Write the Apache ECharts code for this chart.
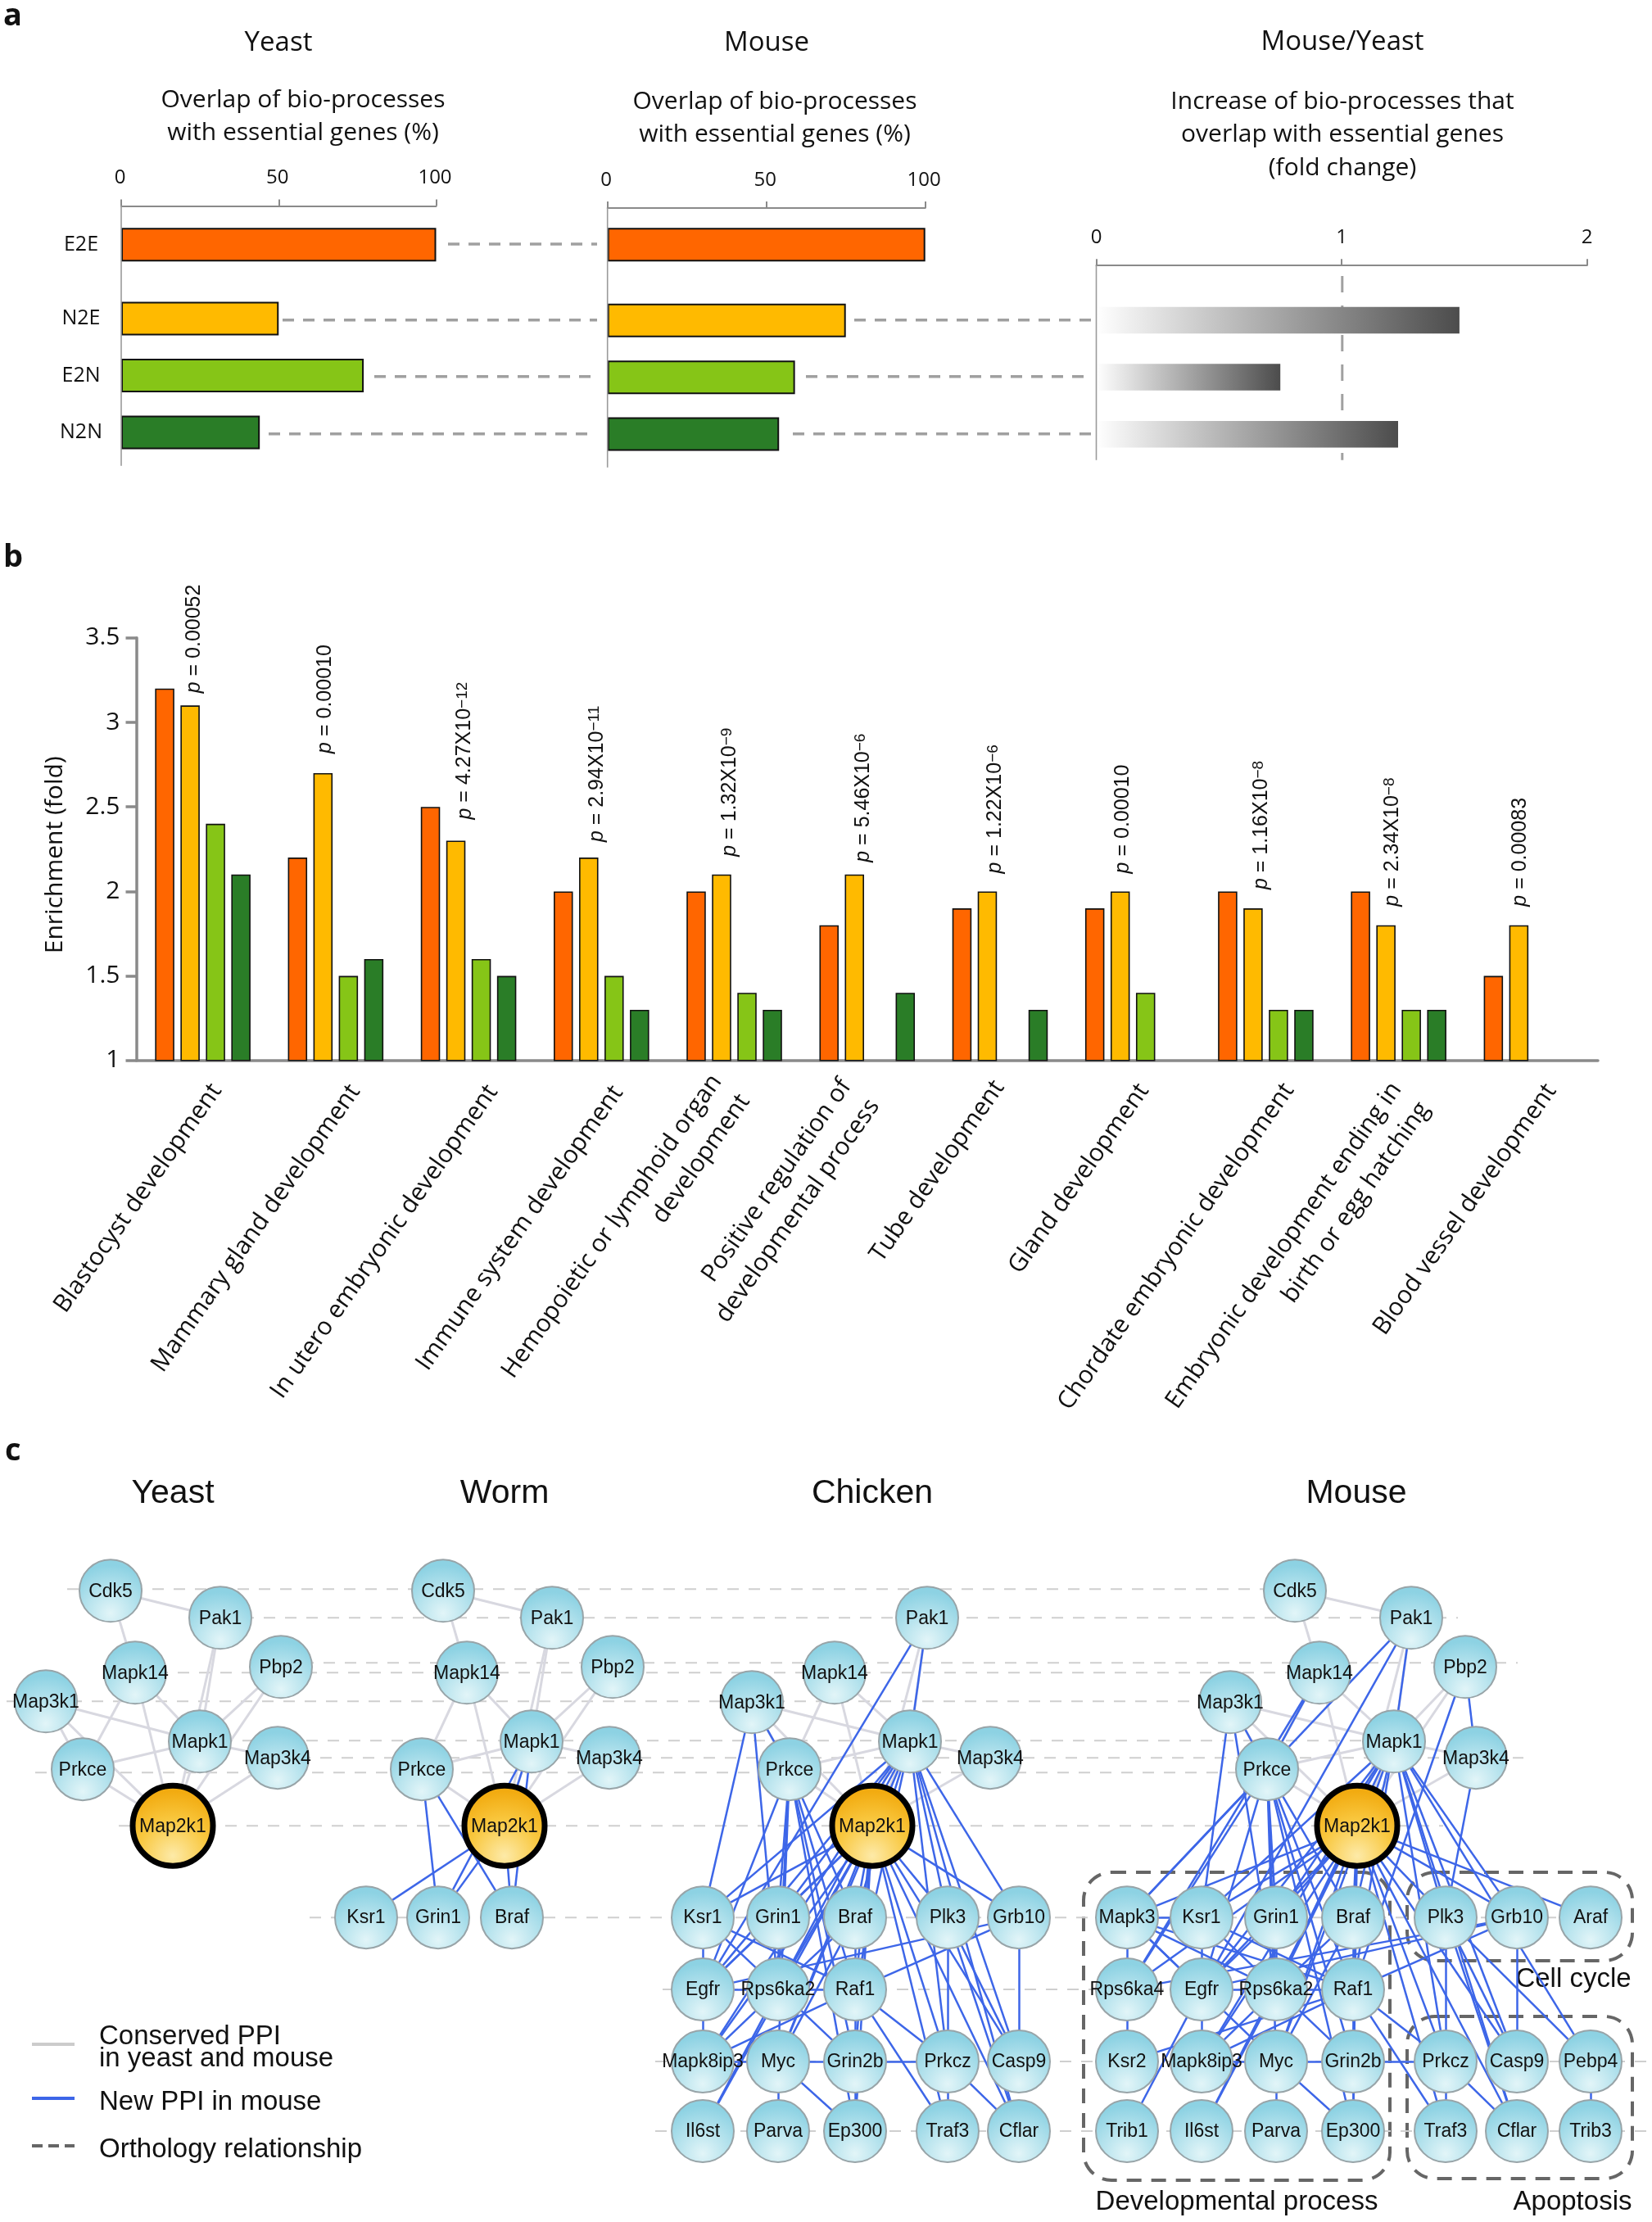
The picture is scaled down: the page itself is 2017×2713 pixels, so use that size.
<!DOCTYPE html>
<html><head><meta charset="utf-8">
<style>html,body{margin:0;padding:0;background:#fff}#c{width:2017px;height:2713px}</style>
<script src="https://cdn.jsdelivr.net/npm/echarts@6/dist/echarts.min.js"></script></head>
<body><div id="c"></div>
<script>
// ---------- panel a data ----------
const rowTop = ['E2E'];
const rowsRest = ['N2E','E2N','N2N'];
const yeastOverlap = [100,50,77,44];
const mouseOverlap = [100,75,59,54];
const foldChange = [1.48,0.75,1.23];
// ---------- panel b data ----------
const categories = ['Blastocyst development','Mammary gland development','In utero embryonic development','Immune system development','Hemopoietic or lymphoid organ\ndevelopment','Positive regulation of\ndevelopmental process','Tube development','Gland development','Chordate embryonic development','Embryonic development ending in\nbirth or egg hatching','Blood vessel development'];
const seriesE2E = [3.2,2.2,2.5,2.0,2.0,1.8,1.9,1.9,2.0,2.0,1.5];
const seriesN2E = [3.1,2.7,2.3,2.2,2.1,2.1,2.0,2.0,1.9,1.8,1.8];
const seriesE2N = [2.4,1.5,1.6,1.5,1.4,null,null,1.4,1.3,1.3,null];
const seriesN2N = [2.1,1.6,1.5,1.3,1.3,1.4,1.3,null,1.3,1.3,null];
const pValues = ['0.00052','0.00010',['4.27X10','−12'],['2.94X10','−11'],['1.32X10','−9'],['5.46X10','−6'],['1.22X10','−6'],'0.00010',['1.16X10','−8'],['2.34X10','−8'],'0.00083'];
// ---------- panel c data: [name, x, y] in the network layout ----------
const yeastNodes = [['Cdk5',135,1942],['Pak1',269,1975],['Mapk14',165,2042],['Pbp2',343,2035],['Map3k1',56,2077],['Mapk1',244,2126],['Map3k4',339,2146],['Prkce',101,2160],['Map2k1',211,2229]];
const wormNodes = [['Cdk5',541,1942],['Pak1',674,1975],['Mapk14',570,2042],['Pbp2',748,2035],['Mapk1',649,2126],['Map3k4',744,2146],['Prkce',515,2160],['Map2k1',616,2229],['Ksr1',447,2341],['Grin1',535,2341],['Braf',625,2341]];
const chickenNodes = [['Pak1',1132,1975],['Mapk14',1019,2042],['Map3k1',918,2078],['Mapk1',1111,2126],['Map3k4',1209,2146],['Prkce',964,2160],['Map2k1',1065,2229],
 ['Ksr1',858,2341],['Grin1',950,2341],['Braf',1044,2341],['Plk3',1157,2341],['Grb10',1244,2341],
 ['Egfr',858,2429],['Rps6ka2',950,2429],['Raf1',1044,2429],
 ['Mapk8ip3',858,2517],['Myc',950,2517],['Grin2b',1044,2517],['Prkcz',1157,2517],['Casp9',1244,2517],
 ['Il6st',858,2602],['Parva',950,2602],['Ep300',1044,2602],['Traf3',1157,2602],['Cflar',1244,2602]];
const mouseNodes = [['Cdk5',1581,1942],['Pak1',1723,1975],['Mapk14',1611,2042],['Pbp2',1789,2035],['Map3k1',1502,2078],['Mapk1',1702,2126],['Map3k4',1802,2146],['Prkce',1547,2160],['Map2k1',1657,2229],
 ['Mapk3',1376,2341],['Ksr1',1467,2341],['Grin1',1558,2341],['Braf',1652,2341],['Plk3',1765,2341],['Grb10',1852,2341],['Araf',1942,2341],
 ['Rps6ka4',1376,2429],['Egfr',1467,2429],['Rps6ka2',1558,2429],['Raf1',1652,2429],
 ['Ksr2',1376,2517],['Mapk8ip3',1467,2517],['Myc',1558,2517],['Grin2b',1652,2517],['Prkcz',1765,2517],['Casp9',1852,2517],['Pebp4',1942,2517],
 ['Trib1',1376,2602],['Il6st',1467,2602],['Parva',1558,2602],['Ep300',1652,2602],['Traf3',1765,2602],['Cflar',1852,2602],['Trib3',1942,2602]];
const conservedEdges = [['Cdk5','Pak1'],['Cdk5','Mapk14'],['Mapk14','Mapk1'],['Mapk14','Prkce'],['Mapk14','Map2k1'],['Pak1','Mapk1'],['Pak1','Map2k1'],['Pbp2','Mapk1'],['Pbp2','Map2k1'],['Map3k1','Mapk1'],['Map3k1','Prkce'],['Map3k1','Map2k1'],['Mapk1','Prkce'],['Mapk1','Map3k4'],['Mapk1','Map2k1'],['Prkce','Map2k1'],['Map3k4','Map2k1']];
const wormNewEdges = [['Map2k1','Ksr1'],['Prkce','Grin1'],['Prkce','Braf'],['Map2k1','Grin1'],['Mapk1','Grin1'],['Map2k1','Braf'],['Mapk1','Braf'],['Mapk1','Map2k1']];
const chickenNewEdges = [['Pak1','Mapk1'],['Pak1','Egfr'],['Map3k1','Ksr1'],['Map3k1','Prkce'],['Map3k1','Rps6ka2'],
 ['Prkce','Grin1'],['Prkce','Egfr'],['Prkce','Rps6ka2'],['Prkce','Raf1'],['Prkce','Grin2b'],['Prkce','Braf'],['Prkce','Ep300'],['Prkce','Myc'],
 ['Mapk1','Grb10'],['Mapk1','Plk3'],['Mapk1','Prkcz'],['Mapk1','Raf1'],['Mapk1','Braf'],['Mapk1','Grin1'],['Mapk1','Egfr'],['Mapk1','Rps6ka2'],['Mapk1','Myc'],['Mapk1','Casp9'],['Mapk1','Cflar'],['Mapk1','Ksr1'],['Mapk1','Mapk8ip3'],
 ['Map2k1','Ksr1'],['Map2k1','Grin1'],['Map2k1','Braf'],['Map2k1','Plk3'],['Map2k1','Grb10'],['Map2k1','Egfr'],['Map2k1','Rps6ka2'],['Map2k1','Raf1'],['Map2k1','Mapk8ip3'],['Map2k1','Myc'],['Map2k1','Grin2b'],['Map2k1','Prkcz'],['Map2k1','Casp9'],['Map2k1','Traf3'],['Map2k1','Cflar'],['Map2k1','Il6st'],['Map2k1','Ep300'],
 ['Ksr1','Raf1'],['Ksr1','Egfr'],['Ksr1','Grin2b'],['Grin1','Egfr'],['Grin1','Rps6ka2'],['Braf','Raf1'],['Braf','Rps6ka2'],['Braf','Myc'],['Egfr','Raf1'],['Egfr','Grb10'],['Grb10','Raf1'],['Grb10','Casp9'],['Plk3','Casp9'],['Plk3','Cflar'],['Plk3','Prkcz'],
 ['Raf1','Prkcz'],['Raf1','Traf3'],['Raf1','Grin2b'],['Raf1','Mapk8ip3'],['Rps6ka2','Mapk8ip3'],['Rps6ka2','Il6st'],['Egfr','Mapk8ip3'],['Mapk8ip3','Prkcz'],['Myc','Ep300'],['Myc','Parva'],['Grin2b','Ep300'],['Prkcz','Traf3'],['Prkcz','Cflar']];
const mouseExtraEdges = [['Mapk14','Prkce'],['Mapk14','Rps6ka4'],['Pbp2','Map3k4'],['Pbp2','Raf1'],['Pak1','Mapk3'],['Prkce','Mapk3'],['Prkce','Rps6ka4'],['Map3k4','Plk3'],['Mapk3','Rps6ka4'],['Mapk3','Map2k1'],['Mapk3','Raf1'],['Mapk3','Rps6ka2'],['Mapk3','Myc'],['Mapk3','Egfr'],['Rps6ka4','Ksr2'],['Rps6ka4','Map2k1'],['Rps6ka4','Grb10'],['Plk3','Pebp4'],['Pebp4','Trib3'],['Egfr','Trib1'],['Map2k1','Araf'],['Mapk1','Pebp4'],['Raf1','Ksr2'],['Ksr1','Mapk3']];
// ---------- text helpers ----------
const SANS = 'Open Sans', ARIAL = 'Liberation Sans';
function txt(text,x,y,size,font,opt){return {type:'text',silent:true,style:Object.assign({text,x,y,font:(opt&&opt.bold?'bold ':'')+size+'px "'+font+'"',textAlign:(opt&&opt.align)||'center',textVerticalAlign:'middle',fill:'#111'})};}
const texts = [
 txt('a',4,20,38,SANS,{bold:1,align:'left'}),txt('b',4,681,38,SANS,{bold:1,align:'left'}),txt('c',6,1772,38,SANS,{bold:1,align:'left'}),
 txt('Yeast',340,53,33,SANS),txt('Mouse',936,53,33,SANS),txt('Mouse/Yeast',1639,52,33,SANS),
 txt('Overlap of bio-processes',370,122,30,SANS),txt('with essential genes (%)',370,162,30,SANS),
 txt('Overlap of bio-processes',946,124,30,SANS),txt('with essential genes (%)',946,164,30,SANS),
 txt('Increase of bio-processes that',1639,124,30,SANS),txt('overlap with essential genes',1639,164,30,SANS),txt('(fold change)',1639,205,30,SANS),
 txt('Yeast',211,1824,41,ARIAL),txt('Worm',616,1824,41,ARIAL),txt('Chicken',1065,1824,41,ARIAL),txt('Mouse',1656,1824,41,ARIAL),
 txt('Conserved PPI',121,2487,33,ARIAL,{align:'left'}),txt('in yeast and mouse',121,2514,33,ARIAL,{align:'left'}),
 txt('New PPI in mouse',121,2567,33,ARIAL,{align:'left'}),txt('Orthology relationship',121,2625,33,ARIAL,{align:'left'}),
 txt('Cell cycle',1921,2417,33,ARIAL),txt('Developmental process',1510,2689,33,ARIAL),txt('Apoptosis',1920,2689,33,ARIAL)
];
function box(x,y,w,h){return {type:'rect',silent:true,shape:{x,y,width:w,height:h,r:34},style:{fill:'none',stroke:'#666',lineWidth:4,lineDash:[18,12]}};}
const graphics = texts.concat([box(1323,2286,374,376),box(1718,2286,275,108),box(1718,2462,275,198)]);
// ---------- layout ----------
const AX='#8a8a8a';
const grids=[
 {left:148,width:384.5,top:251.5,height:94.6},
 {left:148,width:384.5,top:354.3,height:208.5},
 {left:741.7,width:388,top:253.9,height:89.8},
 {left:741.7,width:388,top:356.5,height:208.3},
 {left:1338.5,width:599.2,top:356.2,height:208.8},
 {left:166.5,width:1784.5,top:778.8,height:516},
 {left:0,top:1,width:2017,height:2713}
];
const PAGE=6;
function overlapX(i,shown,offset,max,interval,pad){return {gridIndex:i,type:'value',position:'top',min:0,max:max||100,interval:interval||50,offset:offset||0,show:shown,
  axisLine:{show:true,onZero:false,lineStyle:{color:AX,width:2}},axisTick:{show:true,inside:false,length:8,lineStyle:{color:AX,width:2}},splitLine:{show:false},
  axisLabel:{show:true,margin:22,fontFamily:SANS,fontSize:24,color:'#111',showMaxLabel:true,showMinLabel:true,padding:[0,pad||0,0,0]}};}
function cy(i,cats,labels){return {gridIndex:i,type:'category',data:cats,inverse:true,axisLine:{show:false},axisTick:{show:false},axisLabel:{show:labels,align:'center',margin:49,fontFamily:SANS,fontSize:25,color:'#111'}};}
// per-label nudge of the rotated category labels: [across the line, along the line]
const labelNudge=[[17,5],[23,8],[28,11],[21,5],[0,-8],[0,-15],[0,-2],[14,3],[26,12],[21,-5],[23,9]];
function labelStyle(c,i){
  const st={padding:[0,-labelNudge[i][1],0,0]};
  if(c.indexOf('\n')<0&&labelNudge[i][0]>0) st.lineHeight=labelNudge[i][0]*2;
  return st;
}
const xAxes=[overlapX(0,true,0,100,50,3),overlapX(1,false),overlapX(2,true,0,100,50,3),overlapX(3,false),overlapX(4,true,32,2,1),
 {gridIndex:5,type:'category',data:categories.map((c,i)=>({value:c,textStyle:labelStyle(c,i)})),axisLine:{lineStyle:{color:AX,width:3.5}},axisTick:{length:12,lineStyle:{color:AX,width:3.5}},
  axisLabel:{interval:0,rotate:55,margin:26,fontFamily:SANS,fontSize:30,color:'#111',lineHeight:42,align:'right',
   formatter:(v,i)=>labelNudge[i][0]>0?'\n'+v:v}},
 {gridIndex:PAGE,type:'value',min:0,max:2017,show:false}];
const yAxes=[cy(0,rowTop,true),cy(1,rowsRest,true),cy(2,rowTop,false),cy(3,rowsRest,false),cy(4,rowsRest,false),
 {gridIndex:5,type:'value',min:1,max:3.5,interval:0.5,name:'Enrichment (fold)',nameLocation:'middle',nameGap:84,nameRotate:90,
  nameTextStyle:{fontFamily:SANS,fontSize:30,color:'#111',padding:[0,14,0,0]},
  axisLine:{show:true,lineStyle:{color:AX,width:3.5}},axisTick:{show:true,length:13,lineStyle:{color:AX,width:3.5}},splitLine:{show:false},
  axisLabel:{margin:20,fontFamily:SANS,fontSize:30,color:'#111'}},
 {gridIndex:PAGE,type:'value',min:0,max:2713,inverse:true,show:false}];
const C={e2e:'#ff6600',n2e:'#ffba00',e2n:'#86c517',n2n:'#2a7d27'};
const rowColors=[C.n2e,C.e2n,C.n2n];
function barA(i,vals,colors,h){return {type:'bar',xAxisIndex:i,yAxisIndex:i,barWidth:h||41,z:2,
  data:vals.map((v,k)=>({value:v,itemStyle:{color:colors[k],borderColor:'#111',borderWidth:2}}))};}
const fade={type:'linear',x:0,y:0,x2:1,y2:0,colorStops:[{offset:0,color:'#ffffff'},{offset:1,color:'#4c4c4c'}]};
function guide(points,color,width,dash,z){return {type:'line',xAxisIndex:PAGE,yAxisIndex:PAGE,symbol:'none',silent:true,z:z||1,connectNulls:false,animation:false,
  lineStyle:{color,width,type:dash||'solid',cap:'butt'},data:points};}
function segs(list){const out=[];list.forEach(s=>{out.push([s[0],s[1]],[s[2],s[3]],['-','-']);});return out;}
const connectors=segs([[547,297,729,297],[345,390,729,390],[457,459,721,459],[328,529,718,529],[1043,390,1332,390],[984,459,1323,459],[968,529,1332,529]]);
const orthology=segs([[82,1940,1581,1940],[270,1975,1780,1975],[343,2030,1853,2030],[165,2042,1611,2042],[8,2077,1502,2077],[244,2125,1702,2125],[339,2146,1860,2146],[43,2164,1547,2164],[145,2229,1762,2229],[378,2341,1990,2341],[809,2429,1652,2429],[800,2517,2010,2517],[800,2602,2010,2602]]);
const axisVerticals=segs([[148,250,148,568],[741.7,253,741.7,570],[1338.5,323,1338.5,561]]);
// ---------- nodes ----------
const nodeFill={type:'radial',x:0.5,y:0.85,r:0.75,colorStops:[{offset:0,color:'#e2f5f8'},{offset:1,color:'#8dd2e3'}]};
const hubFill={type:'radial',x:0.5,y:0.85,r:0.75,colorStops:[{offset:0,color:'#fdeaa8'},{offset:0.55,color:'#f9c840'},{offset:1,color:'#f2ab10'}]};
function network(nodes,conserved,added){
 const names=new Set(nodes.map(n=>n[0]));
 const ok=e=>names.has(e[0])&&names.has(e[1]);
 return {type:'graph',coordinateSystem:'cartesian2d',xAxisIndex:PAGE,yAxisIndex:PAGE,layout:'none',z:3,silent:true,animation:false,
  symbol:'circle',symbolSize:76,edgeSymbol:['none','none'],
  itemStyle:{color:nodeFill,borderColor:'#98a4a8',borderWidth:2,opacity:1},
  label:{show:true,position:'inside',fontFamily:ARIAL,fontSize:23,color:'#111',offset:[0,1]},
  data:nodes.map(n=>n[0]==='Map2k1'
    ?{name:n[0],value:[n[1],n[2]],symbolSize:98,itemStyle:{color:hubFill,borderColor:'#000',borderWidth:7}}
    :{name:n[0],value:[n[1],n[2]]}),
  links:conserved.filter(ok).map(e=>({source:e[0],target:e[1],lineStyle:{color:'#d8d8e0',width:3,opacity:1,curveness:0}}))
   .concat(added.filter(ok).map(e=>({source:e[0],target:e[1],lineStyle:{color:'#3d66e8',width:2.5,opacity:1,curveness:0}})))
 };
}
const series=[
 barA(0,[yeastOverlap[0]],[C.e2e]),barA(1,yeastOverlap.slice(1),rowColors),
 barA(2,[mouseOverlap[0]],[C.e2e]),barA(3,mouseOverlap.slice(1),rowColors),
 {type:'bar',xAxisIndex:4,yAxisIndex:4,barWidth:32.5,z:2,itemStyle:{color:fade},data:foldChange},
 guide(connectors,'#a0a0a0',3.5,[14,11]),
 guide(segs([[1638.8,336,1638.8,561]]),'#a0a0a0',3,[20,16]),
 guide(axisVerticals,'#9a9a9a',1.6,'solid',3),
 guide(orthology,'#cfcfcf',2,[14,12]),
 guide(segs([[39,2496,91,2496]]),'#cccccc',4),
 guide(segs([[39,2562,91,2562]]),'#3d66e8',4),
 guide(segs([[39,2620,91,2620]]),'#666666',4,[13,7]),
 network(yeastNodes,conservedEdges,[]),
 network(wormNodes,conservedEdges,wormNewEdges),
 network(chickenNodes,conservedEdges.filter(e=>e[0]!=='Cdk5'&&e[1]!=='Cdk5'),chickenNewEdges),
 network(mouseNodes,conservedEdges,chickenNewEdges.concat(mouseExtraEdges))
];
// ---------- panel b bars ----------
const pShiftX=[5,3,11,10,10,11,10,3,10,8,2], pLift=[15,24,26,19,22,15,22,22,23,23,23];
function pText(p){return Array.isArray(p)?'{i|p} = '+p[0]+'{s|'+p[1]+'}':'{i|p} = '+p;}
function barB(name,vals,color,withP){return {type:'bar',name,xAxisIndex:5,yAxisIndex:5,barWidth:23.5,barGap:'32%',z:2,
  itemStyle:{color,borderColor:'#111',borderWidth:1.6},
  data:vals.map((v,i)=>{
    if(v===null) return null;
    if(!withP) return v;
    return {value:v,label:{show:true,position:'top',rotate:90,align:'left',verticalAlign:'middle',distance:0,offset:[pLift[i],pShiftX[i]],formatter:pText(pValues[i]),
      fontFamily:ARIAL,fontSize:25,color:'#111',rich:{i:{fontFamily:ARIAL,fontSize:25,fontStyle:'italic',color:'#111'},s:{fontFamily:ARIAL,fontSize:19,color:'#111',verticalAlign:'top'}}}};
  })};}
series.push(barB('E2E',seriesE2E,C.e2e),barB('N2E',seriesN2E,C.n2e,true),barB('E2N',seriesE2N,C.e2n),barB('N2N',seriesN2N,C.n2n));

const chart=echarts.init(document.getElementById('c'),null,{renderer:'canvas'});
chart.setOption({animation:false,backgroundColor:'#fff',grid:grids,xAxis:xAxes,yAxis:yAxes,series,graphic:{elements:graphics}});
</script></body></html>
